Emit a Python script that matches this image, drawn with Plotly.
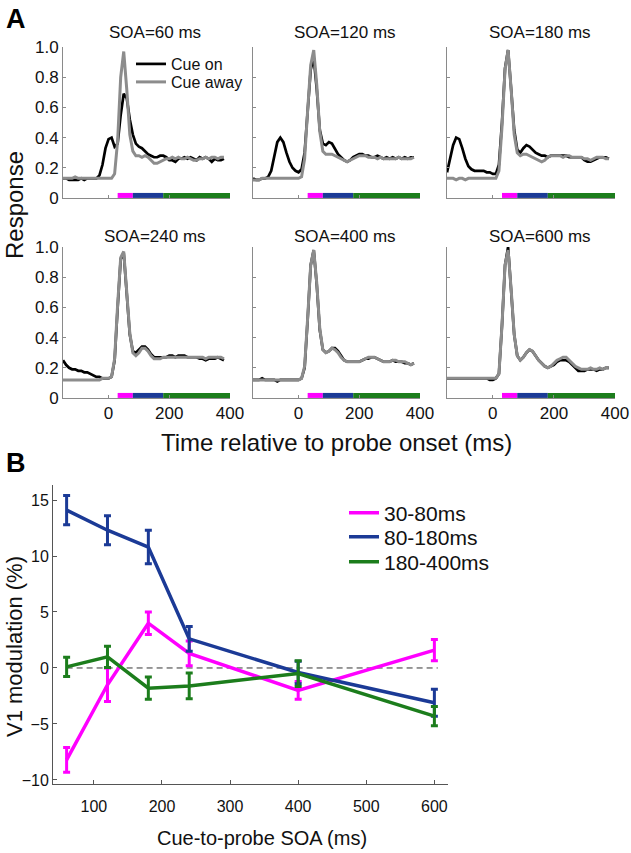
import plotly.graph_objects as go

W, H = 631, 853


def px_x(p):
    return p / W


def px_y(p):
    return 1 - p / H


# ---------------- Panel A data ----------------
T = list(range(-150, 390, 10))  # time relative to probe onset (ms)
SOA_LABELS = ["SOA=60 ms", "SOA=120 ms", "SOA=180 ms", "SOA=240 ms", "SOA=400 ms", "SOA=600 ms"]

ON_60 = [0.13, 0.13, 0.12, 0.12, 0.12, 0.12, 0.13, 0.12, 0.13, 0.13,
         0.13, 0.13, 0.15, 0.22, 0.33, 0.39, 0.40, 0.34, 0.36, 0.55,
         0.69, 0.66, 0.52, 0.42, 0.36, 0.34, 0.33, 0.31, 0.29, 0.28,
         0.27, 0.27, 0.28, 0.28, 0.27, 0.25, 0.25, 0.24, 0.26, 0.26,
         0.27, 0.26, 0.27, 0.26, 0.25, 0.27, 0.26, 0.27, 0.26, 0.24,
         0.26, 0.25, 0.25, 0.26]
AWAY_60 = [0.13, 0.13, 0.13, 0.13, 0.14, 0.13, 0.13, 0.13, 0.13, 0.13,
           0.13, 0.13, 0.13, 0.13, 0.13, 0.13, 0.13, 0.16, 0.38, 0.80,
           0.97, 0.72, 0.42, 0.31, 0.28, 0.28, 0.27, 0.28, 0.27, 0.25,
           0.23, 0.23, 0.24, 0.25, 0.26, 0.26, 0.27, 0.26, 0.27, 0.26,
           0.26, 0.27, 0.26, 0.25, 0.25, 0.26, 0.26, 0.27, 0.26, 0.27,
           0.27, 0.26, 0.27, 0.27]

ON_120 = [0.13, 0.12, 0.12, 0.13, 0.13, 0.14, 0.18, 0.27, 0.37, 0.40,
          0.37, 0.30, 0.24, 0.20, 0.18, 0.17, 0.19, 0.30, 0.58, 0.85,
          0.93, 0.72, 0.45, 0.36, 0.35, 0.37, 0.36, 0.32, 0.29, 0.27,
          0.25, 0.24, 0.25, 0.27, 0.28, 0.29, 0.29, 0.28, 0.28, 0.27,
          0.27, 0.28, 0.27, 0.26, 0.27, 0.26, 0.27, 0.26, 0.27, 0.26,
          0.27, 0.26, 0.27, 0.27]
AWAY_120 = [0.12, 0.12, 0.12, 0.13, 0.13, 0.13, 0.13, 0.13, 0.13, 0.13,
            0.13, 0.13, 0.13, 0.13, 0.13, 0.13, 0.14, 0.26, 0.58, 0.88,
            0.98, 0.75, 0.44, 0.31, 0.29, 0.29, 0.29, 0.28, 0.27, 0.26,
            0.25, 0.24, 0.25, 0.26, 0.27, 0.28, 0.28, 0.28, 0.27, 0.27,
            0.27, 0.26, 0.27, 0.26, 0.26, 0.26, 0.26, 0.26, 0.27, 0.26,
            0.26, 0.26, 0.26, 0.27]

ON_180 = [0.17, 0.27, 0.35, 0.40, 0.39, 0.33, 0.26, 0.21, 0.19, 0.18,
          0.18, 0.18, 0.18, 0.17, 0.17, 0.16, 0.16, 0.22, 0.50, 0.86,
          0.98, 0.72, 0.45, 0.32, 0.30, 0.33, 0.35, 0.34, 0.32, 0.30,
          0.29, 0.28, 0.28, 0.27, 0.28, 0.28, 0.28, 0.28, 0.28, 0.28,
          0.27, 0.27, 0.27, 0.27, 0.27, 0.25, 0.24, 0.24, 0.25, 0.26,
          0.27, 0.27, 0.27, 0.26]
AWAY_180 = [0.13, 0.13, 0.13, 0.12, 0.13, 0.13, 0.12, 0.13, 0.13, 0.13,
            0.13, 0.13, 0.13, 0.13, 0.13, 0.13, 0.13, 0.18, 0.47, 0.85,
            0.98, 0.72, 0.42, 0.30, 0.28, 0.29, 0.29, 0.28, 0.27, 0.26,
            0.25, 0.24, 0.25, 0.27, 0.28, 0.28, 0.28, 0.28, 0.27, 0.28,
            0.28, 0.27, 0.27, 0.27, 0.27, 0.26, 0.26, 0.25, 0.26, 0.27,
            0.27, 0.27, 0.26, 0.26]

ON_240 = [0.25, 0.22, 0.20, 0.19, 0.19, 0.18, 0.18, 0.17, 0.17, 0.16,
          0.15, 0.14, 0.14, 0.13, 0.13, 0.13, 0.14, 0.25, 0.60, 0.92,
          0.96, 0.70, 0.42, 0.31, 0.30, 0.32, 0.34, 0.34, 0.32, 0.29,
          0.27, 0.27, 0.27, 0.27, 0.27, 0.28, 0.28, 0.27, 0.28, 0.28,
          0.28, 0.27, 0.27, 0.27, 0.27, 0.26, 0.26, 0.25, 0.26, 0.26,
          0.26, 0.27, 0.26, 0.25]
AWAY_240 = [0.12, 0.12, 0.12, 0.12, 0.12, 0.12, 0.12, 0.12, 0.12, 0.12,
            0.12, 0.12, 0.12, 0.13, 0.13, 0.13, 0.14, 0.26, 0.62, 0.93,
            0.97, 0.72, 0.43, 0.30, 0.28, 0.30, 0.33, 0.33, 0.31, 0.28,
            0.26, 0.26, 0.26, 0.27, 0.27, 0.27, 0.27, 0.27, 0.27, 0.27,
            0.27, 0.27, 0.27, 0.27, 0.27, 0.27, 0.27, 0.26, 0.27, 0.27,
            0.27, 0.27, 0.27, 0.26]

ON_400 = [0.12, 0.12, 0.12, 0.13, 0.12, 0.12, 0.12, 0.12, 0.11, 0.12,
          0.12, 0.12, 0.12, 0.12, 0.12, 0.12, 0.13, 0.20, 0.52, 0.88,
          0.98, 0.75, 0.45, 0.32, 0.30, 0.31, 0.33, 0.33, 0.31, 0.28,
          0.25, 0.24, 0.24, 0.24, 0.24, 0.24, 0.25, 0.26, 0.26, 0.27,
          0.27, 0.26, 0.25, 0.24, 0.24, 0.24, 0.25, 0.24, 0.24, 0.24,
          0.23, 0.23, 0.22, 0.23]
AWAY_400 = [0.12, 0.12, 0.12, 0.12, 0.12, 0.12, 0.12, 0.12, 0.12, 0.12,
            0.12, 0.12, 0.12, 0.12, 0.12, 0.12, 0.13, 0.21, 0.53, 0.88,
            0.98, 0.76, 0.46, 0.32, 0.30, 0.31, 0.33, 0.32, 0.30, 0.27,
            0.25, 0.24, 0.24, 0.24, 0.24, 0.24, 0.25, 0.26, 0.27, 0.27,
            0.27, 0.26, 0.25, 0.24, 0.24, 0.24, 0.25, 0.25, 0.24, 0.24,
            0.24, 0.23, 0.22, 0.23]

ON_600 = [0.13, 0.13, 0.13, 0.13, 0.13, 0.13, 0.13, 0.13, 0.13, 0.13,
          0.13, 0.13, 0.13, 0.13, 0.12, 0.12, 0.13, 0.16, 0.48, 0.88,
          1.00, 0.72, 0.42, 0.28, 0.25, 0.27, 0.30, 0.32, 0.31, 0.28,
          0.25, 0.23, 0.21, 0.20, 0.21, 0.22, 0.24, 0.25, 0.25, 0.25,
          0.24, 0.22, 0.20, 0.18, 0.18, 0.18, 0.19, 0.19, 0.19, 0.18,
          0.19, 0.19, 0.20, 0.20]
AWAY_600 = [0.13, 0.13, 0.13, 0.13, 0.13, 0.13, 0.13, 0.13, 0.13, 0.13,
            0.13, 0.13, 0.13, 0.13, 0.13, 0.13, 0.13, 0.16, 0.48, 0.88,
            0.98, 0.72, 0.42, 0.28, 0.25, 0.27, 0.30, 0.32, 0.31, 0.28,
            0.25, 0.23, 0.21, 0.20, 0.21, 0.23, 0.25, 0.26, 0.27, 0.27,
            0.25, 0.23, 0.21, 0.20, 0.19, 0.19, 0.19, 0.20, 0.19, 0.19,
            0.20, 0.19, 0.20, 0.20]

CUE_ON = [ON_60, ON_120, ON_180, ON_240, ON_400, ON_600]
CUE_AWAY = [AWAY_60, AWAY_120, AWAY_180, AWAY_240, AWAY_400, AWAY_600]

BAND_START = [30, 80, 180]
BAND_END = [80, 180, 400]
BAND_LEVEL = 0.017

A_YTICKS = [0, 0.2, 0.4, 0.6, 0.8, 1.0]
A_YTICKTEXT = ["0", "0.2", "0.4", "0.6", "0.8", "1.0"]
A_XTICKS = [0, 200, 400]

# ---------------- Panel B data ----------------
SOA = [60, 120, 180, 240, 400, 600]
WINDOW_NAMES = ["30-80ms", "80-180ms", "180-400ms"]
MOD_30_80 = [-8.2, -1.5, 4.0, 1.3, -2.0, 1.6]
ERR_30_80 = [1.1, 1.5, 1.0, 1.1, 0.8, 0.95]
MOD_80_180 = [14.1, 12.3, 10.8, 2.6, -0.4, -3.1]
ERR_80_180 = [1.3, 1.3, 1.5, 1.1, 1.0, 1.2]
MOD_180_400 = [0.1, 1.0, -1.8, -1.6, -0.5, -4.3]
ERR_180_400 = [0.85, 0.95, 1.0, 1.15, 1.15, 0.85]
B_YTICKS = [-10, -5, 0, 5, 10, 15]
B_XTICKS = [100, 200, 300, 400, 500, 600]

# ---------------- Styling ----------------
FONT = "Liberation Sans, Arial, sans-serif"
C_ON = "#000000"
C_AWAY = "#8c8c8c"
WIN_COLORS = ["#ff00ff", "#1b3a96", "#1c7d1c"]
AXIS_A = "#8a8a8a"
AXIS_B = "#555555"

col_px = [(63, 230), (253, 420), (447, 615)]
row_px = [(47, 198), (247, 398)]
title_cx = [155, 345, 540]
title_cy = [33, 236]

fig = go.Figure()
layout = dict(
    width=W, height=H,
    margin=dict(l=0, r=0, t=0, b=0, autoexpand=False),
    paper_bgcolor="white", plot_bgcolor="white",
    font=dict(family=FONT, color="#111111"),
    annotations=[], shapes=[],
)

for k in range(6):
    r, c = divmod(k, 3)
    ax = k + 1
    xa, ya = f"x{ax}", f"y{ax}"
    layout[f"xaxis{ax}"] = dict(
        domain=[px_x(col_px[c][0]), px_x(col_px[c][1])], anchor=ya,
        range=[-150, 400], showline=True, linecolor=AXIS_A, linewidth=1,
        ticks="inside", ticklen=3, tickcolor=AXIS_A, tickvals=A_XTICKS,
        showticklabels=(r == 1), tickfont=dict(size=17, color="#111111"),
        showgrid=False, zeroline=False, automargin=False,
    )
    layout[f"yaxis{ax}"] = dict(
        domain=[px_y(row_px[r][1]), px_y(row_px[r][0])], anchor=xa,
        range=[0, 1.0], showline=True, linecolor=AXIS_A, linewidth=1,
        ticks="inside", ticklen=3, tickcolor=AXIS_A,
        tickvals=A_YTICKS, ticktext=A_YTICKTEXT,
        showticklabels=(c == 0), tickfont=dict(size=17, color="#111111"),
        showgrid=False, zeroline=False, automargin=False,
    )
    for s, e, col in zip(BAND_START, BAND_END, WIN_COLORS):
        fig.add_trace(go.Scatter(x=[s, e], y=[BAND_LEVEL, BAND_LEVEL], mode="lines",
                                 line=dict(color=col, width=5), xaxis=xa, yaxis=ya,
                                 showlegend=False, hoverinfo="skip", cliponaxis=False))
    fig.add_trace(go.Scatter(x=T, y=CUE_ON[k], mode="lines", name="Cue on",
                             line=dict(color=C_ON, width=2.7), xaxis=xa, yaxis=ya,
                             showlegend=(k == 0), legend="legend"))
    fig.add_trace(go.Scatter(x=T, y=CUE_AWAY[k], mode="lines", name="Cue away",
                             line=dict(color=C_AWAY, width=3), xaxis=xa, yaxis=ya,
                             showlegend=(k == 0), legend="legend2"))
    layout["annotations"].append(dict(
        text=SOA_LABELS[k], x=px_x(title_cx[c]), y=px_y(title_cy[r]), xref="paper", yref="paper",
        showarrow=False, xanchor="center", yanchor="middle", font=dict(size=17)))

# Panel B
layout["xaxis7"] = dict(
    domain=[px_x(53), px_x(448)], anchor="y7", range=[40, 620],
    showline=True, linecolor=AXIS_B, linewidth=1, ticks="inside", ticklen=4,
    tickcolor=AXIS_B, tickvals=B_XTICKS, tickfont=dict(size=16, color="#111111"),
    ticklabelstandoff=8, showgrid=False, zeroline=False, automargin=False,
)
layout["yaxis7"] = dict(
    domain=[px_y(784), px_y(485)], anchor="x7", range=[-10.36, 16.34],
    showline=True, linecolor=AXIS_B, linewidth=1, ticks="inside", ticklen=4,
    tickcolor=AXIS_B, tickvals=B_YTICKS, tickfont=dict(size=16, color="#111111"),
    showgrid=False, zeroline=False, automargin=False,
)
layout["shapes"].append(dict(type="line", xref="x7", yref="y7", x0=SOA[0], x1=605, y0=0, y1=0,
                             line=dict(color="#333333", width=1, dash="6px,4px"), layer="below"))

series_B = [(MOD_30_80, ERR_30_80), (MOD_80_180, ERR_80_180), (MOD_180_400, ERR_180_400)]
for i, ((vals, errs), name, col) in enumerate(zip(series_B, WINDOW_NAMES, WIN_COLORS)):
    fig.add_trace(go.Scatter(
        x=SOA, y=vals, mode="lines", name=name,
        line=dict(color=col, width=3.5),
        error_y=dict(type="data", array=errs, visible=True, color=col, thickness=3, width=3.5),
        xaxis="x7", yaxis="y7", legend=f"legend{i + 3}",
    ))


# legends (one per entry so that rows sit at the reference spacing)
def leg(xp, yp, size):
    return dict(x=px_x(xp), y=px_y(yp), xanchor="left", yanchor="middle",
                bgcolor="rgba(0,0,0,0)", borderwidth=0, font=dict(size=size, color="#111111"),
                itemwidth=30, tracegroupgap=0)


layout["legend"] = leg(131, 64, 16)
layout["legend2"] = leg(131, 82, 16)
layout["legend3"] = leg(344, 513, 21)
layout["legend4"] = leg(344, 537, 21)
layout["legend5"] = leg(344, 562, 21)

# axis titles and panel letters
layout["annotations"] += [
    dict(text="Time relative to probe onset (ms)", x=px_x(336), y=px_y(442), xref="paper", yref="paper",
         showarrow=False, xanchor="center", yanchor="middle", font=dict(size=24)),
    dict(text="Response", x=px_x(14), y=px_y(205), xref="paper", yref="paper", textangle=-90,
         showarrow=False, xanchor="center", yanchor="middle", font=dict(size=24)),
    dict(text="Cue-to-probe SOA (ms)", x=px_x(262), y=px_y(838), xref="paper", yref="paper",
         showarrow=False, xanchor="center", yanchor="middle", font=dict(size=20)),
    dict(text="V1 modulation (%)", x=px_x(14), y=px_y(647), xref="paper", yref="paper", textangle=-90,
         showarrow=False, xanchor="center", yanchor="middle", font=dict(size=22)),
    dict(text="<b>A</b>", x=px_x(16), y=px_y(19), xref="paper", yref="paper",
         showarrow=False, xanchor="center", yanchor="middle", font=dict(size=27, color="#000000")),
    dict(text="<b>B</b>", x=px_x(16), y=px_y(463), xref="paper", yref="paper",
         showarrow=False, xanchor="center", yanchor="middle", font=dict(size=27, color="#000000")),
]

fig.update_layout(**layout)
# remove the browser's default 8px body margin so the figure fills the window exactly
fig.write_html(
    "out.html",
    config={"displayModeBar": False},
    post_script="document.body.style.margin='0';document.body.style.overflow='hidden';",
)
